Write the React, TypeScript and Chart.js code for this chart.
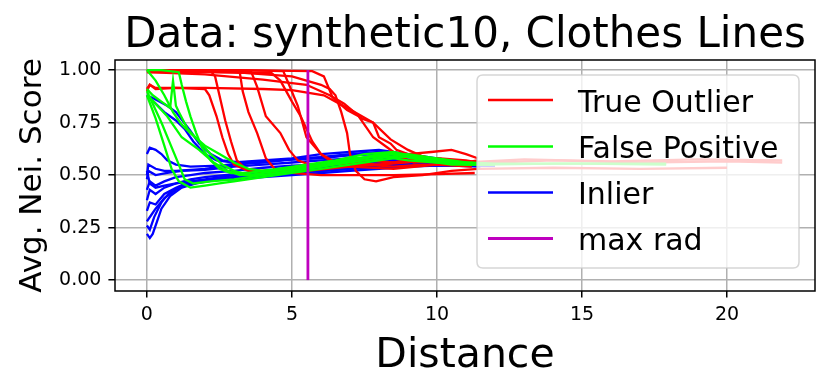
import React, { useEffect, useRef } from 'react';
import { Chart, registerables } from 'chart.js';

Chart.register(...registerables);

const FONT = '"DejaVu Sans", "Liberation Sans", sans-serif';

const TITLE = 'Data: synthetic10, Clothes Lines';
const X_LABEL = 'Distance';
const Y_LABEL = 'Avg. Nei. Score';
const LEGEND_LABELS = ['True Outlier', 'False Positive', 'Inlier', 'max rad'];
const LEGEND_COLORS = ['#ff0000', '#00ff00', '#0000ff', '#bf00bf'];
const X_TICKS = [0, 5, 10, 15, 20];
const Y_TICKS = [0, 0.25, 0.5, 0.75, 1.0];
const MAX_RAD = 5.55;
const MAX_RAD_Y = [0, 1];

type Line = [number, number][];

const trueOutlierLines: Line[] = [
  [[0, 1.0], [1, 1.0], [2.2, 0.995], [2.35, 0.97], [2.5, 0.88], [2.7, 0.76], [2.9, 0.66], [3.1, 0.57], [3.4, 0.53], [4, 0.52], [5, 0.53], [6, 0.545], [7, 0.56], [8, 0.55], [9, 0.57], [10, 0.56], [11, 0.55], [12, 0.56], [14, 0.57], [17, 0.56], [20, 0.565], [21.9, 0.56]],
  [[0, 0.9], [0.1, 0.93], [0.3, 0.91], [1, 0.915], [2, 0.91], [2.15, 0.88], [2.4, 0.78], [2.6, 0.68], [2.8, 0.6], [3.0, 0.55], [3.5, 0.52], [4.5, 0.51], [5.5, 0.52], [7, 0.54], [8.5, 0.53], [10, 0.55], [11.2, 0.54]],
  [[0, 1.0], [1.5, 1.0], [3.2, 0.99], [3.3, 0.9], [3.5, 0.8], [3.8, 0.7], [4.1, 0.58], [4.4, 0.53], [5, 0.51], [6, 0.5], [7, 0.5], [8.5, 0.5], [10, 0.505], [11.3, 0.51]],
  [[0, 1.0], [2, 1.0], [3.6, 0.99], [3.8, 0.92], [4.1, 0.78], [4.6, 0.7], [4.9, 0.62], [5.2, 0.57], [5.6, 0.55], [6.5, 0.56], [7.5, 0.57], [8.5, 0.56], [9.5, 0.58], [10.5, 0.57], [11.3, 0.56]],
  [[0, 1.0], [3, 1.0], [4.7, 0.995], [4.9, 0.93], [5.2, 0.83], [5.5, 0.68], [6, 0.6], [6.5, 0.56], [7.5, 0.55], [8.5, 0.54], [9.5, 0.55], [10.5, 0.55], [11.3, 0.55]],
  [[0, 1.0], [3, 1.0], [5.7, 0.995], [6.1, 0.97], [6.4, 0.87], [6.9, 0.81], [7.3, 0.78], [7.8, 0.68], [8.3, 0.63], [8.7, 0.59], [9.2, 0.56], [10, 0.57], [11, 0.56], [13, 0.575], [16, 0.565], [19, 0.575], [21.9, 0.57]],
  [[0, 0.91], [0.1, 0.93], [0.3, 0.915], [2, 0.915], [4, 0.91], [5, 0.905], [6.1, 0.88], [6.9, 0.82], [7.8, 0.75], [8.4, 0.67], [9.0, 0.62], [9.5, 0.59], [10, 0.57], [11, 0.56], [11.4, 0.57]],
  [[0, 0.99], [2, 0.99], [4.3, 0.985], [4.6, 0.95], [5.0, 0.85], [5.3, 0.78], [5.7, 0.66], [6.0, 0.6], [6.4, 0.56], [7, 0.54], [8, 0.55], [9, 0.56], [10, 0.58], [11, 0.57], [11.4, 0.56]],
  [[0, 0.995], [3, 0.99], [5, 0.97], [6.0, 0.93], [6.3, 0.91], [6.5, 0.88], [6.7, 0.8], [6.9, 0.7], [7.0, 0.6], [7.2, 0.52], [7.5, 0.48], [7.9, 0.47], [8.5, 0.49], [9.5, 0.5], [10.5, 0.52], [11.4, 0.53], [14, 0.535], [17, 0.53], [20, 0.535]],
  [[0, 0.99], [2, 0.98], [4, 0.955], [5.5, 0.93], [6.3, 0.88], [6.8, 0.84], [7.4, 0.77], [7.8, 0.75], [8.0, 0.68], [8.4, 0.65], [8.6, 0.62], [9, 0.6], [9.8, 0.61], [10.5, 0.62], [11, 0.6], [11.4, 0.58]],
];

const falsePositiveLines: Line[] = [
  [[0, 1.0], [0.5, 1.0], [1.1, 0.99], [1.2, 0.93], [1.35, 0.85], [1.5, 0.78], [1.7, 0.7], [1.9, 0.63], [2.2, 0.57], [2.5, 0.53], [2.9, 0.51], [3.5, 0.51], [4.5, 0.53], [5.5, 0.55], [6.5, 0.57], [7.5, 0.6], [8.5, 0.61], [9.5, 0.58], [10.5, 0.56], [11.5, 0.55], [12, 0.55]],
  [[0, 0.91], [0.2, 0.88], [0.5, 0.85], [0.8, 0.82], [0.9, 0.95], [1.0, 0.83], [1.1, 0.8], [1.4, 0.72], [1.8, 0.66], [2.2, 0.6], [2.6, 0.55], [3.0, 0.52], [3.5, 0.5], [4.5, 0.52], [5.5, 0.54], [6.5, 0.56], [7.5, 0.58], [8.5, 0.6], [9.5, 0.57], [10.5, 0.55], [11.5, 0.55], [14, 0.555], [17.9, 0.555]],
  [[0, 0.88], [0.3, 0.77], [0.6, 0.64], [0.85, 0.53], [1.1, 0.47], [1.5, 0.44], [2, 0.45], [2.5, 0.46], [3, 0.47], [4, 0.49], [5, 0.51], [6, 0.53], [7, 0.55], [8, 0.57], [9, 0.59], [10, 0.57], [11, 0.55], [12, 0.55]],
  [[0, 0.87], [0.1, 0.87], [0.7, 0.78], [1.2, 0.68], [1.8, 0.62], [2.3, 0.56], [2.8, 0.52], [3.2, 0.5], [4, 0.5], [5, 0.52], [6, 0.54], [7, 0.57], [8, 0.6], [8.8, 0.6], [9.5, 0.58], [10.5, 0.56], [11.5, 0.55]],
  [[0, 1.0], [0.3, 0.95], [0.6, 0.88], [0.9, 0.8], [1.2, 0.74], [1.5, 0.7], [2, 0.64], [2.5, 0.6], [3, 0.56], [3.5, 0.53], [4, 0.52], [5, 0.53], [6, 0.55], [7, 0.58], [8, 0.59], [9, 0.57], [10, 0.56], [11, 0.56], [12, 0.55]],
  [[0, 0.9], [0.2, 0.84], [0.5, 0.75], [0.8, 0.65], [1.1, 0.55], [1.3, 0.48], [1.6, 0.46], [2.2, 0.47], [3, 0.48], [4, 0.5], [5, 0.52], [6, 0.54], [7, 0.56], [8, 0.58], [9, 0.6], [10, 0.58], [11, 0.56], [12, 0.555], [15, 0.555], [17.9, 0.55]],
];

const inlierLines: Line[] = [
  [[0, 0.6], [0.1, 0.63], [0.3, 0.62], [0.5, 0.6], [0.7, 0.57], [1, 0.55], [1.5, 0.54], [2.5, 0.545], [3.5, 0.56], [4.5, 0.57], [5.5, 0.58], [6.5, 0.59], [7.5, 0.6], [8.5, 0.6], [9.5, 0.58], [10.5, 0.56], [11.5, 0.55]],
  [[0, 0.88], [0.3, 0.84], [0.6, 0.8], [1, 0.76], [1.3, 0.72], [1.6, 0.66], [2, 0.6], [2.4, 0.57], [3, 0.56], [4, 0.57], [5, 0.58], [6, 0.6], [7, 0.61], [8, 0.62], [9, 0.6], [10, 0.57], [11, 0.56], [12, 0.555]],
  [[0, 0.5], [0.05, 0.55], [0.3, 0.53], [0.6, 0.52], [1, 0.52], [2, 0.53], [3, 0.55], [4, 0.56], [5, 0.575], [6, 0.58], [7, 0.595], [8, 0.6], [9, 0.59], [10, 0.57], [11, 0.56], [12, 0.55]],
  [[0, 0.48], [0.05, 0.52], [0.3, 0.5], [0.7, 0.51], [1.2, 0.52], [2, 0.525], [3, 0.54], [4, 0.55], [5, 0.56], [6, 0.57], [7, 0.58], [8, 0.58], [9, 0.575], [10, 0.56], [11, 0.55], [12, 0.55]],
  [[0, 0.43], [0.1, 0.47], [0.3, 0.45], [0.6, 0.47], [1, 0.49], [1.5, 0.5], [2, 0.51], [3, 0.52], [4, 0.535], [5, 0.545], [6, 0.55], [7, 0.56], [8, 0.565], [9, 0.57], [10, 0.56], [11, 0.55], [12, 0.55]],
  [[0, 0.38], [0.1, 0.43], [0.3, 0.41], [0.6, 0.44], [1, 0.46], [1.5, 0.48], [2, 0.49], [3, 0.505], [4, 0.52], [5, 0.53], [6, 0.54], [7, 0.55], [8, 0.56], [9, 0.565], [10, 0.56], [11, 0.55], [12, 0.55]],
  [[0, 0.33], [0.1, 0.37], [0.3, 0.36], [0.6, 0.41], [1, 0.44], [1.5, 0.47], [2, 0.48], [3, 0.5], [4, 0.51], [5, 0.525], [6, 0.535], [7, 0.545], [8, 0.555], [9, 0.56], [10, 0.555], [11, 0.55], [12, 0.545]],
  [[0, 0.28], [0.15, 0.31], [0.3, 0.34], [0.6, 0.39], [1, 0.43], [1.5, 0.46], [2, 0.475], [3, 0.49], [4, 0.5], [5, 0.51], [6, 0.52], [7, 0.535], [8, 0.545], [9, 0.55], [10, 0.55], [11, 0.545], [12, 0.545]],
  [[0, 0.22], [0.1, 0.2], [0.2, 0.22], [0.35, 0.28], [0.5, 0.34], [0.8, 0.4], [1.2, 0.44], [1.7, 0.46], [2.5, 0.48], [3.5, 0.495], [4.5, 0.505], [5.5, 0.515], [6.5, 0.525], [7.5, 0.535], [8.5, 0.54], [9.5, 0.545], [10.5, 0.545], [11.5, 0.54]],
  [[0, 0.26], [0.1, 0.24], [0.25, 0.3], [0.5, 0.37], [0.8, 0.42], [1.2, 0.45], [2, 0.47], [3, 0.49], [4, 0.5], [5, 0.51], [6, 0.52], [7, 0.53], [8, 0.54], [9, 0.55], [10, 0.55], [11, 0.545]],
  [[0, 0.88], [0.3, 0.86], [0.7, 0.83], [1, 0.8], [1.5, 0.71], [1.8, 0.65], [2.2, 0.6], [2.6, 0.57], [3.2, 0.56], [4, 0.565], [5, 0.575], [6, 0.585], [7, 0.6], [8, 0.61], [9, 0.6], [10, 0.58], [11, 0.56], [12, 0.555]],
  [[0, 0.52], [0.1, 0.46], [0.3, 0.44], [0.6, 0.45], [1, 0.46], [1.5, 0.47], [2, 0.475], [3, 0.48], [4, 0.49], [5, 0.5], [6, 0.51], [7, 0.52], [8, 0.53], [9, 0.54], [10, 0.545], [11, 0.545], [12, 0.545]],
];

const LINE_W = 2.3;

function lineDataset(line: Line, color: string, width: number) {
  return {
    data: line.map(([x, y]) => ({ x, y })),
    borderColor: color,
    backgroundColor: color,
    borderWidth: width,
    pointRadius: 0,
    fill: false,
    tension: 0,
  };
}

const overlayPlugin = {
  id: 'overlay',
  afterDatasetsDraw(chart: any) {
    const ctx: CanvasRenderingContext2D = chart.ctx;
    const a = chart.chartArea;
    ctx.save();
    ctx.strokeStyle = '#000';
    ctx.lineWidth = 1.5;
    ctx.strokeRect(a.left, a.top, a.right - a.left, a.bottom - a.top);

    const bx = 477, by = 75, bw = 322, bh = 193, r = 6;
    ctx.beginPath();
    ctx.moveTo(bx + r, by);
    ctx.lineTo(bx + bw - r, by);
    ctx.quadraticCurveTo(bx + bw, by, bx + bw, by + r);
    ctx.lineTo(bx + bw, by + bh - r);
    ctx.quadraticCurveTo(bx + bw, by + bh, bx + bw - r, by + bh);
    ctx.lineTo(bx + r, by + bh);
    ctx.quadraticCurveTo(bx, by + bh, bx, by + bh - r);
    ctx.lineTo(bx, by + r);
    ctx.quadraticCurveTo(bx, by, bx + r, by);
    ctx.closePath();
    ctx.fillStyle = 'rgba(255,255,255,0.8)';
    ctx.fill();
    ctx.strokeStyle = 'rgba(204,204,204,0.8)';
    ctx.lineWidth = 1.5;
    ctx.stroke();

    const rows = [100, 146.5, 192.5, 238.5];
    ctx.font = `30px ${FONT}`;
    ctx.textAlign = 'left';
    ctx.textBaseline = 'alphabetic';
    LEGEND_LABELS.forEach((lab, i) => {
      const y = rows[i];
      ctx.beginPath();
      ctx.moveTo(488, y);
      ctx.lineTo(553, y);
      ctx.strokeStyle = LEGEND_COLORS[i];
      ctx.lineWidth = i === 3 ? 2.8 : LINE_W;
      ctx.stroke();
      ctx.fillStyle = '#000';
      ctx.fillText(lab, 578, y + 11.5);
    });
    ctx.restore();
  },
  afterDraw(chart: any) {
    const ctx: CanvasRenderingContext2D = chart.ctx;
    const a = chart.chartArea;
    const cx = (a.left + a.right) / 2;
    const cy = (a.top + a.bottom) / 2;
    ctx.save();
    ctx.fillStyle = '#000';
    ctx.textAlign = 'center';
    ctx.textBaseline = 'alphabetic';
    ctx.font = `42px ${FONT}`;
    ctx.fillText(TITLE, cx, 47);
    ctx.font = `41px ${FONT}`;
    ctx.fillText(X_LABEL, cx, 367);
    ctx.font = `31px ${FONT}`;
    ctx.translate(41, cy);
    ctx.rotate(-Math.PI / 2);
    ctx.fillText(Y_LABEL, 0, 0);
    ctx.restore();
  },
};

export default function App() {
  const ref = useRef<HTMLCanvasElement | null>(null);

  useEffect(() => {
    if (!ref.current) return;
    const datasets: any[] = [];
    datasets.push({
      data: MAX_RAD_Y.map((y) => ({ x: MAX_RAD, y })),
      borderColor: '#bf00bf',
      borderWidth: 2.8,
      pointRadius: 0,
      fill: false,
      tension: 0,
    });
    falsePositiveLines.forEach((l) => datasets.push(lineDataset(l, '#00ff00', LINE_W)));
    trueOutlierLines.forEach((l) => datasets.push(lineDataset(l, '#ff0000', LINE_W)));
    inlierLines.forEach((l) => datasets.push(lineDataset(l, '#0000ff', LINE_W)));

    const gridOpts = {
      color: '#b0b0b0',
      lineWidth: 1.5,
      tickColor: '#000',
      tickWidth: 1.5,
      tickLength: 6.6,
      drawTicks: true,
    };

    const chart = new Chart(ref.current, {
      type: 'line',
      data: { datasets },
      plugins: [overlayPlugin],
      options: {
        responsive: false,
        animation: false,
        events: [],
        layout: { padding: { left: 0, top: 60, right: 15, bottom: 0 } },
        plugins: {
          legend: { display: false },
          title: { display: false },
          tooltip: { enabled: false },
        },
        scales: {
          x: {
            type: 'linear',
            min: -1.1,
            max: 23.03,
            afterFit: (s: any) => { s.height = 99; },
            afterBuildTicks: (s: any) => { s.ticks = X_TICKS.map((v) => ({ value: v })); },
            grid: gridOpts,
            border: { display: false },
            ticks: {
              color: '#000',
              font: { family: FONT, size: 19 },
              padding: 6,
              maxRotation: 0,
              autoSkip: false,
              callback: (v: any) => String(v),
            },
          },
          y: {
            type: 'linear',
            min: -0.052,
            max: 1.048,
            afterFit: (s: any) => { s.width = 115; },
            afterBuildTicks: (s: any) => { s.ticks = Y_TICKS.map((v) => ({ value: v })); },
            grid: gridOpts,
            border: { display: false },
            ticks: {
              color: '#000',
              font: { family: FONT, size: 19 },
              padding: 7,
              autoSkip: false,
              callback: (v: any) => Number(v).toFixed(2),
            },
          },
        },
      } as any,
    });
    return () => chart.destroy();
  }, []);

  return (
    <div style={{ position: 'absolute', left: 0, top: 0, width: 830, height: 390, background: '#fff' }}>
      <canvas ref={ref} width={830} height={390} style={{ width: 830, height: 390, display: 'block' }} />
    </div>
  );
}
